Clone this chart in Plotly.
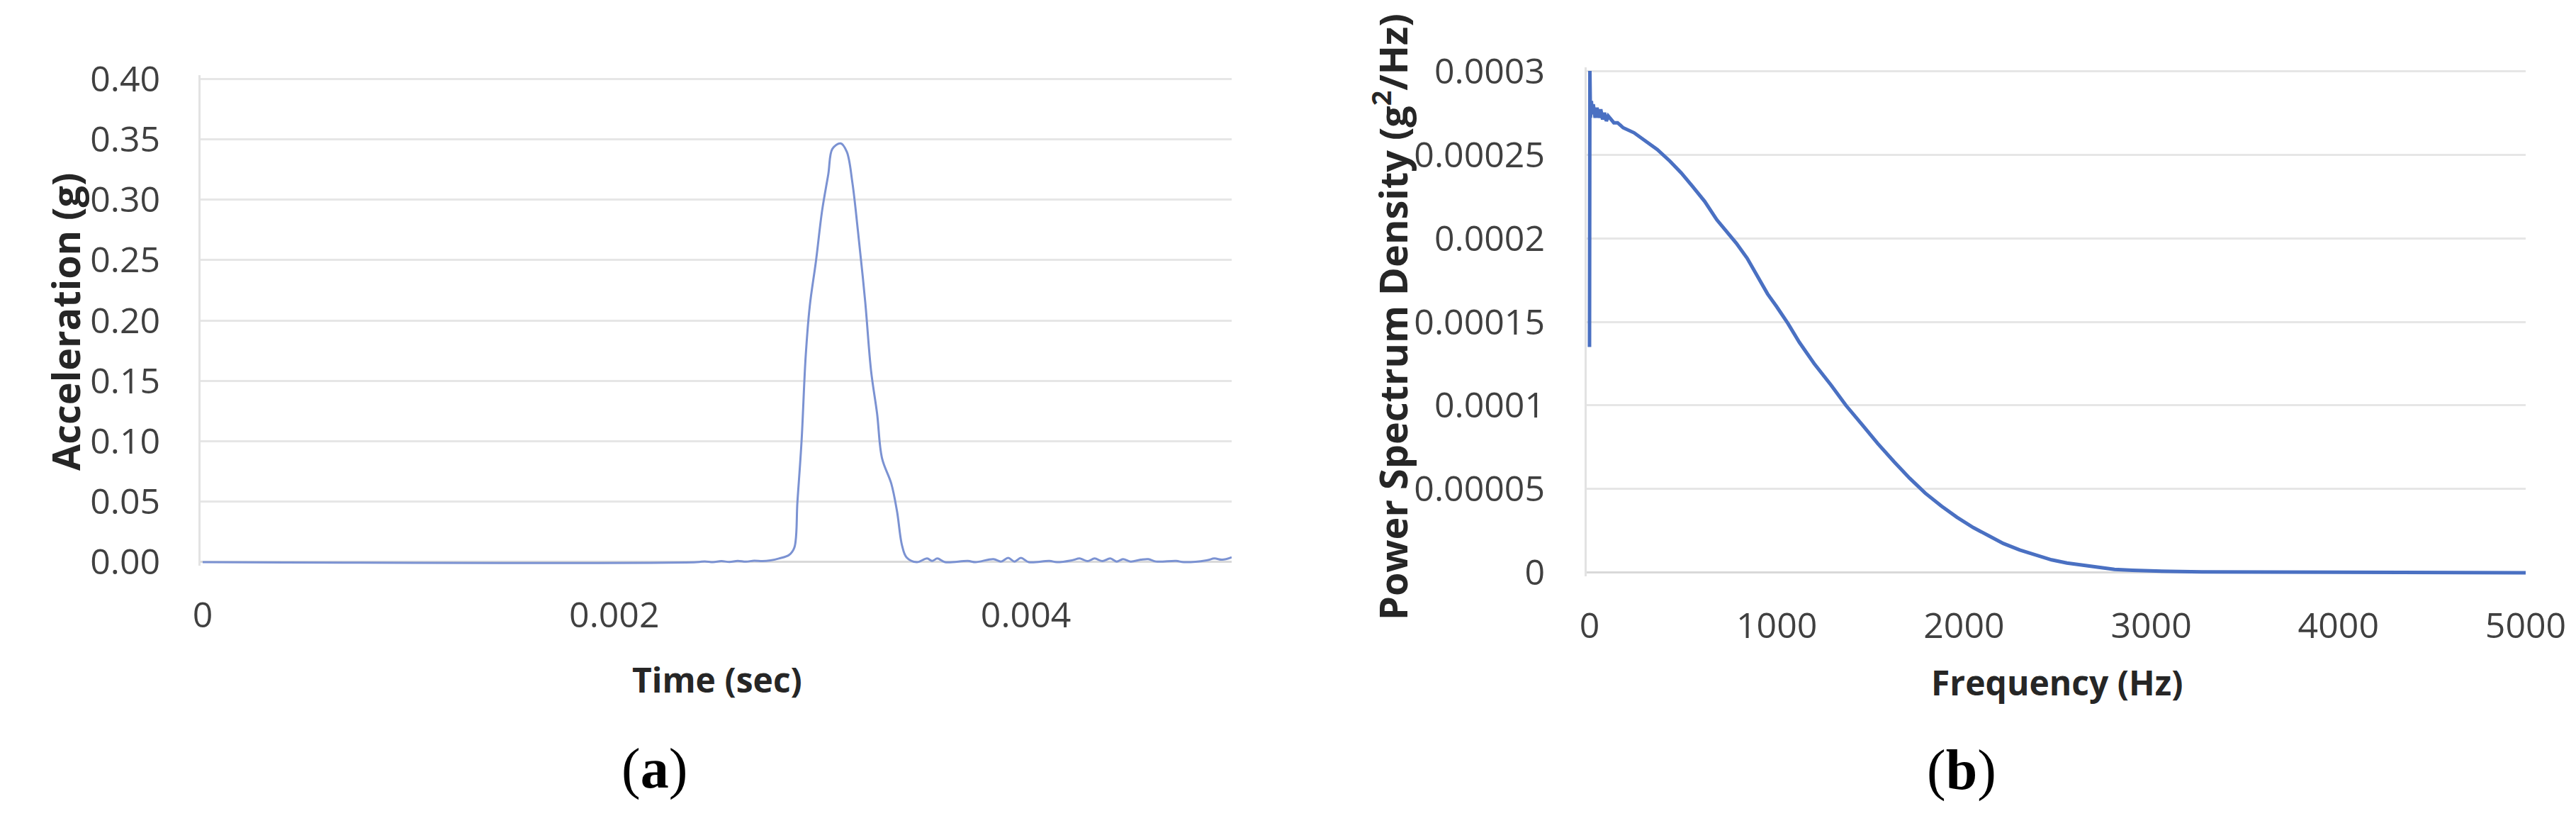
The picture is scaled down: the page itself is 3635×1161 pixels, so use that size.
import plotly.graph_objects as go

# (a) acceleration pulse
time_s = [0, 0.0024, 0.00244, 0.00248, 0.00252, 0.00256, 0.0026, 0.00264, 0.00268, 0.00272,
          0.00276, 0.0028, 0.00285, 0.002875, 0.00289, 0.00291, 0.00293, 0.00295, 0.00298,
          0.00301, 0.00304, 0.00306, 0.0031, 0.00313, 0.003157, 0.003184, 0.003219, 0.003248,
          0.003277, 0.003301, 0.003346, 0.003374, 0.003398, 0.00342, 0.00347, 0.00352,
          0.003545, 0.00357, 0.003607, 0.003718, 0.003756, 0.003842, 0.00388, 0.003914,
          0.003945, 0.003976, 0.004014, 0.004114, 0.004151, 0.004224, 0.004262, 0.0043,
          0.004334, 0.004372, 0.00441, 0.004441, 0.004472, 0.004509, 0.004558, 0.004595,
          0.004633, 0.00473, 0.004768, 0.004878, 0.004916, 0.004954, 0.005]
accel_g = [0, 0, 0.0006, 0, 0.0008, 0.0002, 0.001, 0.0004, 0.0012, 0.0008,
           0.0015, 0.003, 0.006, 0.012, 0.05, 0.1, 0.17, 0.212, 0.249,
           0.291, 0.321, 0.342, 0.3465, 0.3395, 0.314, 0.274, 0.216, 0.158,
           0.123, 0.086, 0.065, 0.042, 0.014, 0.004, 0.0, 0.003,
           0.001, 0.003, 0.0, 0.001, 0.0, 0.0025, 0.0005, 0.0035,
           0.0005, 0.0035, 0.0, 0.001, 0.0, 0.0015, 0.003, 0.0008,
           0.003, 0.0008, 0.003, 0.0005, 0.0025, 0.0005, 0.002, 0.0025,
           0.0005, 0.001, 0.0, 0.0015, 0.003, 0.002, 0.004]

# (b) power spectrum density
freq_hz = [0, 2, 5, 10, 15, 20, 30, 40, 50, 60, 70, 80, 90, 100, 113, 130, 150, 180,
           238, 300, 362, 430, 490, 550, 615, 680, 740, 784, 842, 900, 951, 1000, 1060,
           1121, 1200, 1290, 1370, 1457, 1540, 1627, 1710, 1793, 1880, 1962, 2050, 2132,
           2210, 2298, 2380, 2468, 2550, 2638, 2720, 2804, 2900, 2973, 3100, 3270, 3500,
           3800, 4200, 4600, 5000]
psd = [0.000135, 0.0003, 0.000272, 0.000282, 0.000274, 0.00028, 0.000272, 0.000278,
       0.000272, 0.000277, 0.000271, 0.000275, 0.00027, 0.000273, 0.000271, 0.000269,
       0.000269, 0.000266, 0.000263, 0.000258, 0.000253, 0.000246, 0.000239, 0.000231,
       0.000222, 0.000211, 0.000203, 0.000197, 0.000188, 0.000177, 0.0001667, 0.000159,
       0.000149, 0.0001377, 0.000125, 0.0001122, 0.0001, 0.0000884, 0.0000772, 0.0000663,
       0.0000565, 0.0000476, 0.0000398, 0.0000332, 0.000027, 0.0000221, 0.0000175,
       0.0000136, 0.0000105, 0.0000077, 0.0000058, 0.0000043, 0.000003, 0.000002,
       0.0000015, 0.0000011, 0.0000008, 0.0000005, 0.0000004, 0.0000002, 0.0000001,
       0.00000005, 0.00000003]

acc_ticks = [0, 0.05, 0.1, 0.15, 0.2, 0.25, 0.3, 0.35, 0.4]
acc_labels = ["0.00", "0.05", "0.10", "0.15", "0.20", "0.25", "0.30", "0.35", "0.40"]
time_ticks = [0, 0.002, 0.004]
time_labels = ["0", "0.002", "0.004"]
psd_ticks = [0, 0.00005, 0.0001, 0.00015, 0.0002, 0.00025, 0.0003]
psd_labels = ["0", "0.00005", "0.0001", "0.00015", "0.0002", "0.00025", "0.0003"]
freq_ticks = [0, 1000, 2000, 3000, 4000, 5000]

W, H = 3635, 1161
tick_font = dict(family="Open Sans", size=50, color="#404040")
grid = "#e6e6e6"

fig = go.Figure()
fig.add_trace(go.Scatter(x=time_s, y=accel_g, mode="lines", xaxis="x", yaxis="y",
                         line=dict(color="#7b92d2", width=3), line_shape="spline"))
fig.add_trace(go.Scatter(x=freq_hz, y=psd, mode="lines", xaxis="x2", yaxis="y2",
                         line=dict(color="#4a70c2", width=5)))

fig.update_layout(
    template="none",
    width=W, height=H,
    margin=dict(l=0, r=0, t=0, b=0, autoexpand=False),
    paper_bgcolor="white", plot_bgcolor="white",
    showlegend=False,
    xaxis=dict(domain=[275.1 / W, 1730 / W], range=[-0.00001, 0.005], automargin=False,
               tickvals=time_ticks, ticktext=time_labels, tickfont=tick_font,
               ticks="outside", ticklen=26, tickcolor="rgba(0,0,0,0)",
               showgrid=False, zeroline=False, showline=False),
    yaxis=dict(domain=[1 - 790.1 / H, 1 - 97.9 / H], range=[-0.003, 0.403], automargin=False,
               tickvals=acc_ticks, ticktext=acc_labels, tickfont=tick_font,
               ticks="outside", ticklen=44, tickcolor="rgba(0,0,0,0)",
               showgrid=True, gridcolor=grid, gridwidth=3,
               zeroline=True, zerolinecolor="#d9d9d9", zerolinewidth=3,
               showline=True, linecolor="#e3e3e3", linewidth=3),
    xaxis2=dict(domain=[2231 / W, 3556 / W], range=[-15, 5000], automargin=False,
                tickvals=freq_ticks, tickfont=tick_font,
                ticks="outside", ticklen=26, tickcolor="rgba(0,0,0,0)",
                showgrid=False, zeroline=False, showline=False, anchor="y2"),
    yaxis2=dict(domain=[1 - 804.7 / H, 1 - 87.3 / H], range=[-0.000002, 0.000302],
                automargin=False,
                tickvals=psd_ticks, ticktext=psd_labels, tickfont=tick_font,
                ticks="outside", ticklen=46, tickcolor="rgba(0,0,0,0)",
                showgrid=True, gridcolor=grid, gridwidth=3,
                zeroline=True, zerolinecolor="#d9d9d9", zerolinewidth=3,
                showline=True, linecolor="#e3e3e3", linewidth=3, anchor="x2"),
)

title_font = dict(family="Open Sans", size=48, color="#262626")
ytitle_font = dict(family="Open Sans", size=54, color="#262626")
label_font = dict(family="Liberation Serif", size=80, color="black")


def label(x_px, y_px, text, font, angle=0):
    fig.add_annotation(x=x_px / W, y=1 - y_px / H, xref="paper", yref="paper",
                       xanchor="center", yanchor="middle", textangle=angle,
                       text=text, showarrow=False, font=font)


label(1004, 950, "<b>Time (sec)</b>", title_font)
label(2894, 954, "<b>Frequency (Hz)</b>", title_font)
label(84, 446, "<b>Acceleration (g)</b>", ytitle_font, -90)
label(1954, 439, "<b>Power Spectrum Density (g<sup>2</sup>/Hz)</b>", ytitle_font, -90)
label(915, 1076, "(<b>a</b>)", label_font)
label(2760, 1078, "(<b>b</b>)", label_font)

fig.write_html("out.html")
